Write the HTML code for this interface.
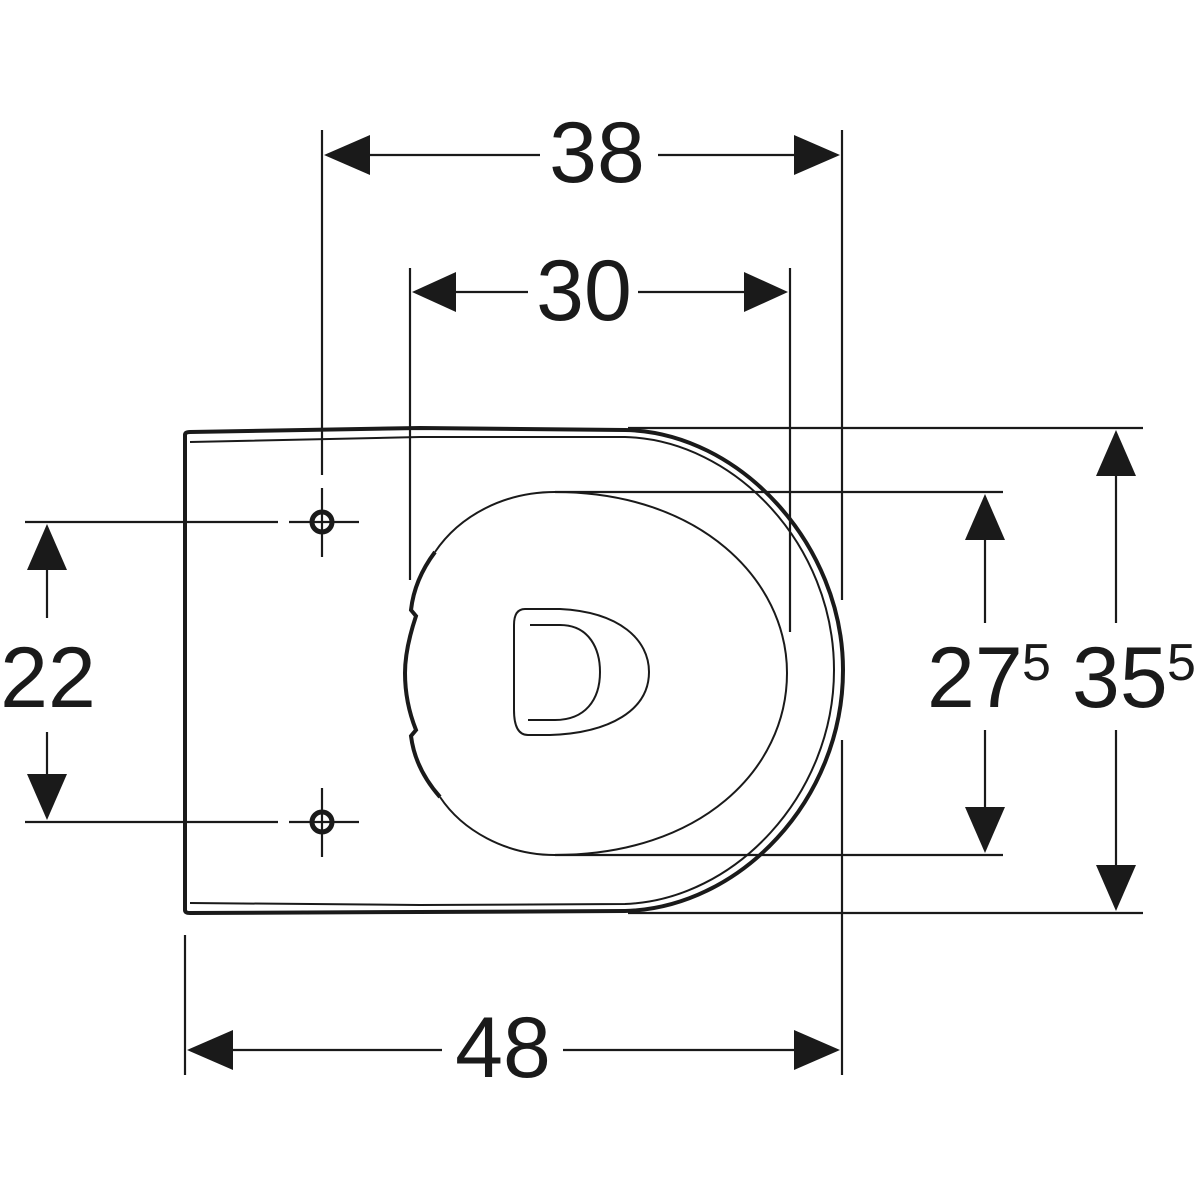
<!DOCTYPE html>
<html><head><meta charset="utf-8"><style>html,body{margin:0;padding:0;background:#fff}svg{display:block}</style></head>
<body>
<svg width="1200" height="1200" viewBox="0 0 1200 1200" xmlns="http://www.w3.org/2000/svg">
<g fill="none" stroke="#1a1a1a">
<path d="M185 435 L185 910 Q185 913 190 913 L420 912 L625 911 C740 908 843 800 843 670 C843 545 740 432 625 430 L420 428 L190 432 Q185 432 185 435" stroke-width="4"/>
<path d="M190 442 L420 437 L625 437 C735 440 834 545 834 670 C834 795 735 900 625 904 L420 905 L190 903" stroke-width="2"/>
<path d="M435 552 C460 515 505 492 555 492 C700 492 787 580 787 673 C787 770 700 855 555 855 C505 855 462 830 440 797" stroke-width="2"/>
<path d="M435 552 C420 572 413 592 411 610 L416 616 C408 640 405 660 405 673 C405 690 408 710 416 730 L411 736 C414 760 425 780 440 797" stroke-width="4"/>
<path d="M525 609 L560 609 C620 612 649 640 649 672 C649 710 610 733 550 735 L528 735 C518 735 514 725 514 710 L514 625 C514 614 518 609 525 609Z" stroke-width="2"/>
<path d="M530 625 L560 625 C590 625 600 650 600 672 C600 700 585 720 555 720 L528 720" stroke-width="2"/>
<g stroke-width="2.2">
<circle cx="322" cy="522" r="10" stroke-width="5"/><line x1="322" y1="488" x2="322" y2="557"/><line x1="289" y1="522" x2="359" y2="522"/>
<circle cx="322" cy="822" r="10" stroke-width="5"/><line x1="322" y1="788" x2="322" y2="857"/><line x1="289" y1="822" x2="359" y2="822"/>
</g>
<g stroke-width="2.2">
<line x1="322" y1="130" x2="322" y2="475"/>
<line x1="842" y1="130" x2="842" y2="600"/>
<line x1="842" y1="740" x2="842" y2="1075"/>
<line x1="410" y1="268" x2="410" y2="580"/>
<line x1="790" y1="268" x2="790" y2="632"/>
<line x1="185" y1="935" x2="185" y2="1075"/>
<line x1="25" y1="522" x2="278" y2="522"/>
<line x1="25" y1="822" x2="278" y2="822"/>
<line x1="555" y1="492" x2="1003" y2="492"/>
<line x1="555" y1="855" x2="1003" y2="855"/>
<line x1="628" y1="428" x2="1143" y2="428"/>
<line x1="628" y1="913" x2="1143" y2="913"/>
<line x1="340" y1="155" x2="540" y2="155"/><line x1="658" y1="155" x2="825" y2="155"/>
<line x1="428" y1="292" x2="528" y2="292"/><line x1="638" y1="292" x2="772" y2="292"/>
<line x1="200" y1="1050" x2="442" y2="1050"/><line x1="563" y1="1050" x2="825" y2="1050"/>
<line x1="47" y1="540" x2="47" y2="618"/><line x1="47" y1="732" x2="47" y2="805"/>
<line x1="985" y1="510" x2="985" y2="623"/><line x1="985" y1="730" x2="985" y2="838"/>
<line x1="1116" y1="446" x2="1116" y2="623"/><line x1="1116" y1="730" x2="1116" y2="896"/>
</g>
</g>
<g fill="#1a1a1a">
<polygon points="324,155 370,135 370,175"/><polygon points="840,155 794,135 794,175"/>
<polygon points="412,292 456,272 456,312"/><polygon points="788,292 744,272 744,312"/>
<polygon points="187,1050 233,1030 233,1070"/><polygon points="840,1050 794,1030 794,1070"/>
<polygon points="47,524 27,570 67,570"/><polygon points="47,820 27,774 67,774"/>
<polygon points="985,494 965,540 1005,540"/><polygon points="985,853 965,807 1005,807"/>
<polygon points="1116,430 1096,476 1136,476"/><polygon points="1116,911 1096,865 1136,865"/>
</g>
<g font-family="Liberation Sans, sans-serif" font-size="86" fill="#1a1a1a">
<text x="597" y="182" text-anchor="middle">38</text>
<text x="584" y="320" text-anchor="middle">30</text>
<text x="503" y="1077" text-anchor="middle">48</text>
<text x="48" y="707" text-anchor="middle">22</text>
<text x="927" y="707">27</text><text x="1022" y="680" font-size="52">5</text>
<text x="1072" y="707">35</text><text x="1167" y="680" font-size="52">5</text>
</g>
</svg>
</body></html>
